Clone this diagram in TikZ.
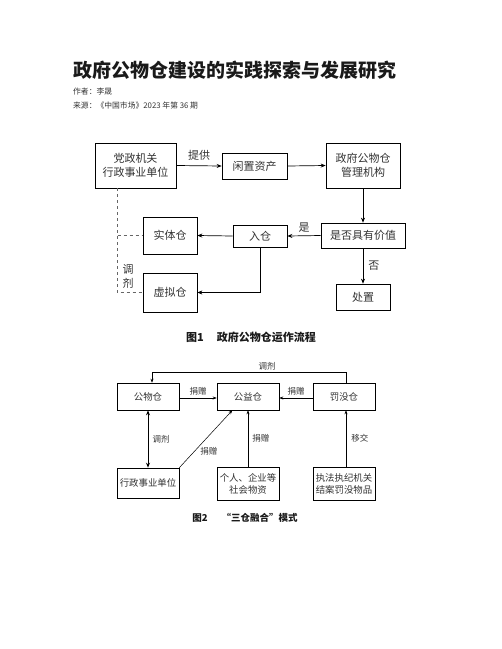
\documentclass[tikz,border=0pt]{standalone}
\usepackage{fontspec}
\newfontfamily\cjk{Noto Sans CJK SC}
\usetikzlibrary{arrows.meta,calc}
\definecolor{txt}{HTML}{333333}
\definecolor{ttl}{HTML}{1A1A1A}
\begin{document}
\begin{tikzpicture}[x=1pt,y=-1pt,
  boxa/.style={draw=black,line width=0.7pt,inner sep=0pt,align=center,text=txt,font=\cjk\fontsize{11}{14}\selectfont},
  boxb/.style={draw=black,line width=0.6pt,inner sep=0pt,align=center,text=txt,font=\cjk\fontsize{9.4}{12}\selectfont},
  arra/.style={line width=0.7pt,-{Stealth[length=5pt,width=4pt]}},
  arrb/.style={line width=0.5pt,-{Stealth[length=4pt,width=3pt]}},
  lbla/.style={text=txt,inner sep=0pt,font=\cjk\fontsize{11}{14}\selectfont},
  lblb/.style={text=txt,inner sep=0pt,font=\cjk\fontsize{8.5}{10}\selectfont},
  dsh/.style={dashed,draw=gray!80!black,line width=0.6pt}]
\useasboundingbox[fill=white] (0,0) rectangle (502,649);

% header
\node[anchor=west,inner sep=0pt,text=ttl,font=\cjk\bfseries\fontsize{19}{22}\selectfont] (title) at (73,70) {政府公物仓建设的实践探索与发展研究};
\node[anchor=west,inner sep=0pt,text=txt,font=\cjk\fontsize{7.8}{9}\selectfont] (author) at (73,92) {作者：李晟};
\node[anchor=west,inner sep=0pt,text=txt,font=\cjk\fontsize{7.8}{9}\selectfont] (src) at (73,106) {来源：《中国市场》2023 年第 36 期};

% figure 1
\node[boxa,minimum width=81,minimum height=45] (dz) at (135.5,165.5) {党政机关\\行政事业单位};
\node[boxa,minimum width=65,minimum height=26] (xz) at (254.5,166) {闲置资产};
\node[boxa,minimum width=74,minimum height=45] (gl) at (363,165.5) {政府公物仓\\管理机构};
\node[boxa,minimum width=84,minimum height=25] (sf) at (363,235.5) {是否具有价值};
\node[boxa,minimum width=54,minimum height=22] (rc) at (260,236) {入仓};
\node[boxa,minimum width=54,minimum height=37] (st) at (170,235.5) {实体仓};
\node[boxa,minimum width=54,minimum height=39] (xn) at (170,292.5) {虚拟仓};
\node[boxa,minimum width=54,minimum height=26] (cz) at (363,297) {处置};

\draw[arra] (dz.east) -- (xz.west) node[lbla,midway,above=5pt] (tg) {提供};
\draw[arra] (xz.east) -- (gl.west);
\draw[arra] (gl.south) -- (sf.north);
\draw[arra] (sf.west) -- (rc.east) node[lbla,midway,above=3pt] (shi) {是};
\draw[arra] (rc.west) -- (st.east);
\draw[arra] (rc.south) |- (xn.east);
\draw[arra] (sf.south) -- (cz.north) node[lbla,midway,right=5pt] (fou) {否};
\coordinate (dl) at (117,188);
\draw[dsh] (dl) |- (st.west);
\draw[dsh] (dl) |- (xn.west);
\node[lbla,align=center,font=\cjk\fontsize{11}{14}\selectfont] (tj1) at (128,276) {调\\剂};
\node[inner sep=0pt,text=ttl,font=\cjk\bfseries\fontsize{11}{13}\selectfont] (cap1) at (251,337) {图1\hspace{13pt}政府公物仓运作流程};

% figure 2
\node[boxb,minimum width=62,minimum height=27] (gw) at (148,396.5) {公物仓};
\node[boxb,minimum width=62,minimum height=27] (gy) at (248,396.5) {公益仓};
\node[boxb,minimum width=62,minimum height=27] (fm) at (344,396.5) {罚没仓};
\node[boxb,minimum width=62,minimum height=30] (xs) at (148,483) {行政事业单位};
\node[boxb,minimum width=62,minimum height=33] (gr) at (248,483.5) {个人、企业等\\社会物资};
\node[boxb,minimum width=62,minimum height=33] (zf) at (344,483.5) {执法执纪机关\\结案罚没物品};

\coordinate (topr) at (346,372);
\coordinate (topl) at (152,372);
\draw[line width=0.6pt] ($(fm.north)+(2,0)$) -- (topr) -- (topl);
\draw[arrb] (topl) -- ($(gw.north)+(4,0)$);
\node[lblb] (tjt) at (267,366) {调剂};
\draw[arrb] ($(gw.east)+(0,1.5)$) -- ($(gy.west)+(0,1.5)$) node[lblb,midway,above=3pt] (jz1) {捐赠};
\draw[arrb] ($(fm.west)+(0,1.5)$) -- ($(gy.east)+(0,1.5)$) node[lblb,midway,above=3pt] (jz2) {捐赠};
\draw[line width=1pt,{Stealth[length=5pt,width=4pt]}-{Stealth[length=5pt,width=4pt]}] (gw.south) -- (xs.north) node[lblb,midway,right=4pt] (tj2) {调剂};
\draw[arrb] (xs.north east) -- ($(gy.south west)!0.25!(gy.south east)$) node[lblb,pos=0.28,right=6pt] (jz3) {捐赠};
\draw[arrb] (gr.north) -- (gy.south) node[lblb,midway,right=4pt] (jz4) {捐赠};
\draw[arrb] ($(zf.north)+(2,0)$) -- ($(fm.south)+(2,0)$) node[lblb,midway,right=5pt] (yj) {移交};
\node[inner sep=0pt,text=ttl,font=\cjk\bfseries\fontsize{9.5}{11}\selectfont] (cap2) at (245,518) {图2\hspace{14pt}“三仓融合”模式};
\end{tikzpicture}
\end{document}
